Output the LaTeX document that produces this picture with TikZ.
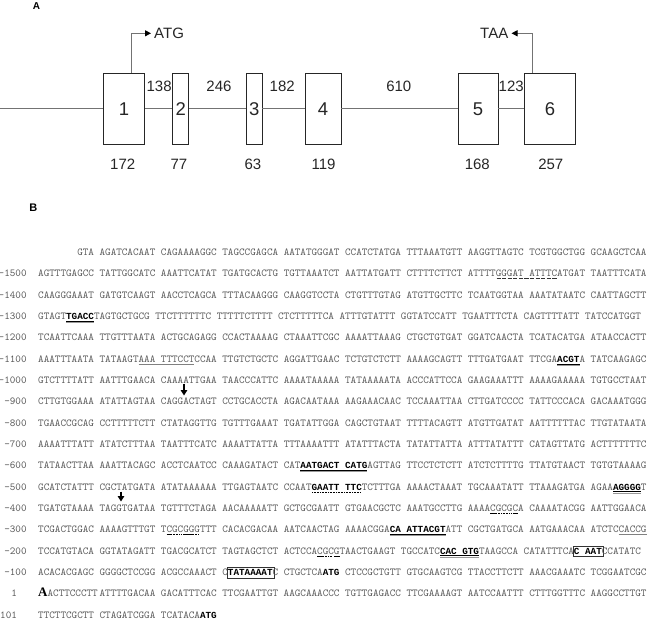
\documentclass[tikz,border=0pt]{standalone}
\usepackage{fontspec}
\usetikzlibrary{arrows.meta}
\newfontfamily\labf{Liberation Sans}
\newfontfamily\hdf{Liberation Sans}
\newfontfamily\sqbfam{Liberation Mono}
\newfontfamily\sqserif{Liberation Serif}
% sequence annotation helpers
\newcommand\sqB[1]{{\sqbfam\bfseries\fontsize{9.3}{11}\selectfont\color{black}#1}}
\newcommand\sqSU[1]{\setbox0\hbox{#1}\rlap{\color{black}\vrule width\wd0 height -1.4pt depth 2.0pt}\box0}
\newcommand\sqDU[1]{\setbox0\hbox{\sqB{#1}}\rlap{\color{black}\vrule width\wd0 height -1.3pt depth 1.9pt}\rlap{\color{black!40}\vrule width\wd0 height -2.6pt depth 3.5pt}\box0}
\newcommand\sqTU[1]{\setbox0\hbox{#1}\rlap{\color{black!50}\vrule width\wd0 height -1.5pt depth 2.0pt}\box0}
\newcommand\sqDot[1]{\setbox0\hbox{#1}\rlap{\hbox to\wd0{\color{black}\leaders\hbox to 1.6pt{\hss\vrule width 0.8pt height -1.4pt depth 2.1pt\hss}\hfill}}\box0}
\newcommand\sqDash[1]{\setbox0\hbox{#1}\rlap{\hbox to\wd0{\color{black!80}\leaders\hbox to 5.58pt{\hss\vrule width 4.2pt height -1.4pt depth 2.0pt\hss}\hfill}}\box0}
\newcommand\sqBox[1]{\setbox0\hbox{#1}\rlap{\kern-1pt\color{black!80}\raisebox{-2.2pt}{\fboxsep=0pt\fboxrule=0.6pt\fbox{\vrule width0pt height 10pt\kern1pt\hbox to\wd0{}\kern1pt}}}\box0}
\newcommand\sqbigA{{\sqserif\bfseries\fontsize{13}{13}\selectfont\color{black}A}}
\newcommand\sqfirst[1]{\setbox4\hbox{A#1\ }\makebox[\wd4][l]{\sqbigA#1}}
\begin{document}
\begin{tikzpicture}[x=1pt,y=-1pt,
  exon/.style={draw=black!85, fill=white, line width=0.8pt, minimum height=71pt, inner sep=0pt, text=black!85, font=\labf\fontsize{18.5}{19}\selectfont},
  glab/.style={inner sep=0pt, text=black!85, font=\labf\fontsize{15}{15}\selectfont},
  gline/.style={draw=black!55, line width=1pt},
  garr/.style={draw=black!55, line width=1pt, -{Triangle[length=6pt,width=6pt,color=black]}},
  hd/.style={inner sep=0pt, font=\hdf\bfseries\fontsize{11}{12}\selectfont},
  seq/.style={anchor=base west, inner sep=0pt, text=black!65, font=\ttfamily\fontsize{10.63}{12}\selectfont},
  seqlab/.style={anchor=base east, inner sep=0pt, text=black!65, font=\ttfamily\fontsize{10.63}{12}\selectfont},
  seqnum/.style={anchor=base west, inner sep=0pt, text=black!65, font=\ttfamily\fontsize{10.63}{12}\selectfont},
  seqarr/.style={line width=1.4pt, -{Triangle[length=5.5pt,width=6.5pt]}}]
\useasboundingbox (0,0) rectangle (648,623);
% ---------- panel A ----------
\node[hd, font=\hdf\bfseries\fontsize{10}{11}\selectfont] (lA) at (36.4,6.5) {A};
\node[exon, minimum width=41.3pt] (e1) at (124,108.8) {1};
\node[exon, minimum width=16.1pt] (e2) at (180.8,108.8) {2};
\node[exon, minimum width=15.3pt] (e3) at (254.3,108.8) {3};
\node[exon, minimum width=36pt] (e4) at (323,108.8) {4};
\node[exon, minimum width=40pt] (e5) at (477.9,108.8) {5};
\node[exon, minimum width=50.4pt] (e6) at (550,108.8) {6};
\coordinate (g0) at (0,108.8);
\draw[gline] (g0) -- (e1.west) (e1.east) -- (e2.west) (e2.east) -- (e3.west)
  (e3.east) -- (e4.west) (e4.east) -- (e5.west) (e5.east) -- (e6.west);
\node[glab, anchor=west] (atg) at (154,33.3) {ATG};
\draw[garr] ([xshift=7.4pt]e1.north) |- ([xshift=-3pt]atg.west);
\node[glab, anchor=east] (taa) at (508.5,33.3) {TAA};
\draw[garr] ([xshift=-17.8pt]e6.north) |- ([xshift=3pt]taa.east);
\node[glab] (n138) at (159.1,86.7) {138};
\node[glab] (n246) at (219,86.7) {246};
\node[glab] (n182) at (282.2,86.7) {182};
\node[glab] (n610) at (398.8,86.7) {610};
\node[glab] (n123) at (511.2,86.7) {123};
\node[glab] (s1) at (122.7,164.3) {172};
\node[glab] (s2) at (178.9,164.3) {77};
\node[glab] (s3) at (252.9,164.3) {63};
\node[glab] (s4) at (323.6,164.3) {119};
\node[glab] (s5) at (477.3,164.3) {168};
\node[glab] (s6) at (550.8,164.3) {257};
% ---------- panel B ----------
\node[hd] (lB) at (33.3,207.7) {B};
\node[seq] (r0) at (38,255.6) {\hphantom{AAAAAAA}GTA AGATCACAAT CAGAAAAGGC TAGCCGAGCA AATATGGGAT CCATCTATGA TTTAAATGTT AAGGTTAGTC TCGTGGCTGG GCAAGCTCAA};
\node[seqlab] (l1) at (26.84,276.9) {-1500};
\node[seq] (r1) at (38,276.9) {AGTTTGAGCC TATTGGCATC AAATTCATAT TGATGCACTG TGTTAAATCT AATTATGATT CTTTTCTTCT ATTTT\sqDash{GGGAT ATTTC}ATGAT TAATTTCATA};
\node[seqlab] (l2) at (26.84,298.2) {-1400};
\node[seq] (r2) at (38,298.2) {CAAGGGAAAT GATGTCAAGT AACCTCAGCA TTTACAAGGG CAAGGTCCTA CTGTTTGTAG ATGTTGCTTC TCAATGGTAA AAATATAATC CAATTAGCTT};
\node[seqlab] (l3) at (26.84,319.6) {-1300};
\node[seq] (r3) at (38,319.6) {GTAGT\sqDU{TGACC} TAGTGCTGCG TTCTTTTTTC TTTTTCTTTT CTCTTTTTCA ATTTGTATTT GGTATCCATT TGAATTTCTA CAGTTTTATT TATCCATGGT};
\node[seqlab] (l4) at (26.84,340.9) {-1200};
\node[seq] (r4) at (38,340.9) {TCAATTCAAA TTGTTTAATA ACTGCAGAGG CCACTAAAAG CTAAATTCGC AAAATTAAAG CTGCTGTGAT GGATCAACTA TCATACATGA ATAACCACTT};
\node[seqlab] (l5) at (26.84,362.2) {-1100};
\node[seq] (r5) at (38,362.2) {AAATTTAATA TATAAGT\sqTU{AAA TTTCCT}CCAA TTGTCTGCTC AGGATTGAAC TCTGTCTCTT AAAAGCAGTT TTTGATGAAT TTCGA\sqDU{ACGT}A TATCAAGAGC};
\node[seqlab] (l6) at (26.84,383.5) {-1000};
\node[seq] (r6) at (38,383.5) {GTCTTTTATT AATTTGAACA CAAAATTGAA TAACCCATTC AAAATAAAAA TATAAAAATA ACCCATTCCA GAAGAAATTT AAAAGAAAAA TGTGCCTAAT};
\node[seqlab] (l7) at (26.84,404.8) {-900};
\node[seq] (r7) at (38,404.8) {CTTGTGGAAA ATATTAGTAA CAGGACTAGT CCTGCACCTA AGACAATAAA AAGAAACAAC TCCAAATTAA CTTGATCCCC TATTCCCACA GACAAATGGG};
\node[seqlab] (l8) at (26.84,426.2) {-800};
\node[seq] (r8) at (38,426.2) {TGAACCGCAG CCTTTTTCTT CTATAGGTTG TGTTTGAAAT TGATATTGGA CAGCTGTAAT TTTTACAGTT ATGTTGATAT AATTTTTTAC TTGTATAATA};
\node[seqlab] (l9) at (26.84,447.5) {-700};
\node[seq] (r9) at (38,447.5) {AAAATTTATT ATATCTTTAA TAATTTCATC AAAATTATTA TTTAAAATTT ATATTTACTA TATATTATTA ATTTATATTT CATAGTTATG ACTTTTTTTC};
\node[seqlab] (l10) at (26.84,468.8) {-600};
\node[seq] (r10) at (38,468.8) {TATAACTTAA AAATTACAGC ACCTCAATCC CAAAGATACT CAT\sqDU{AATGACT CATG}AGTTAG TTCCTCTCTT ATCTCTTTTG TTATGTAACT TGTGTAAAAG};
\node[seqlab] (l11) at (26.84,490.1) {-500};
\node[seq] (r11) at (38,490.1) {GCATCTATTT CGCTATGATA ATATAAAAAA TTGAGTAATC CCAAT\sqDot{\sqB{GAATT TTC}}TCTTTGA AAAACTAAAT TGCAAATATT TTAAAGATGA AGAA\sqDU{AGGGG}T};
\node[seqlab] (l12) at (26.84,511.4) {-400};
\node[seq] (r12) at (38,511.4) {TGATGTAAAA TAGGTGATAA TGTTTCTAGA AACAAAAATT GCTGCGAATT GTGAACGCTC AAATGCCTTG AAAA\sqSU{C}\sqDot{GCG}\sqSU{C}A CAAAATACGG AATTGGAACA};
\node[seqlab] (l13) at (26.84,532.8) {-300};
\node[seq] (r13) at (38,532.8) {TCGACTGGAC AAAAGTTTGT T\sqSU{C}\sqDot{GC}\sqSU{GG}\sqDot{G}TTT CACACGACAA AATCAACTAG AAAACGGA\sqDU{CA ATTACGT}ATT CGCTGATGCA AATGAAACAA ATCTC\sqTU{CACCG}};
\node[seqlab] (l14) at (26.84,554.1) {-200};
\node[seq] (r14) at (38,554.1) {TCCATGTACA GGTATAGATT TGACGCATCT TAGTAGCTCT ACTCCA\sqSU{C}\sqDot{GC}\sqSU{G} TAACTGAAGT TGCCATC\sqDU{CAC GTG}TAAGCCA CATATTTCA\sqBox{\sqB{C AAT}}CCATATC};
\node[seqlab] (l15) at (26.84,575.4) {-100};
\node[seq] (r15) at (38,575.4) {ACACACGAGC GGGGCTCCGG ACGCCAAACT C\sqBox{\sqB{TATAAAAT}}C CTGCTCA\sqB{ATG} CTCCGCTGTT GTGCAAGTCG TTACCTTCTT AAACGAAATC TCGGAATCGC};
\node[seqnum] (l16) at (11.2,596.7) {1};
\node[seq] (r16) at (38,596.7) {\sqfirst{ACTTCCCTT}ATTTTGACAA GACATTTCAC TTCGAATTGT AAGCAAACCC TGTTGAGACC TTCGAAAAGT AATCCAATTT CTTTGGTTTC AAGGCCTTGT};
\node[seqnum] (l17) at (0,618.0) {101};
\node[seq] (r17) at (38,618.0) {TTCTTCGCTT CTAGATCGGA TCATACA\sqB{ATG}};
% arrows marking sites
\coordinate (a1s) at (184,383.5); \coordinate (a1e) at (184,395.5);
\draw[seqarr] (a1s) -- (a1e);
\coordinate (a2s) at (121,491.5); \coordinate (a2e) at (121,501.5);
\draw[seqarr] (a2s) -- (a2e);
\end{tikzpicture}
\end{document}
